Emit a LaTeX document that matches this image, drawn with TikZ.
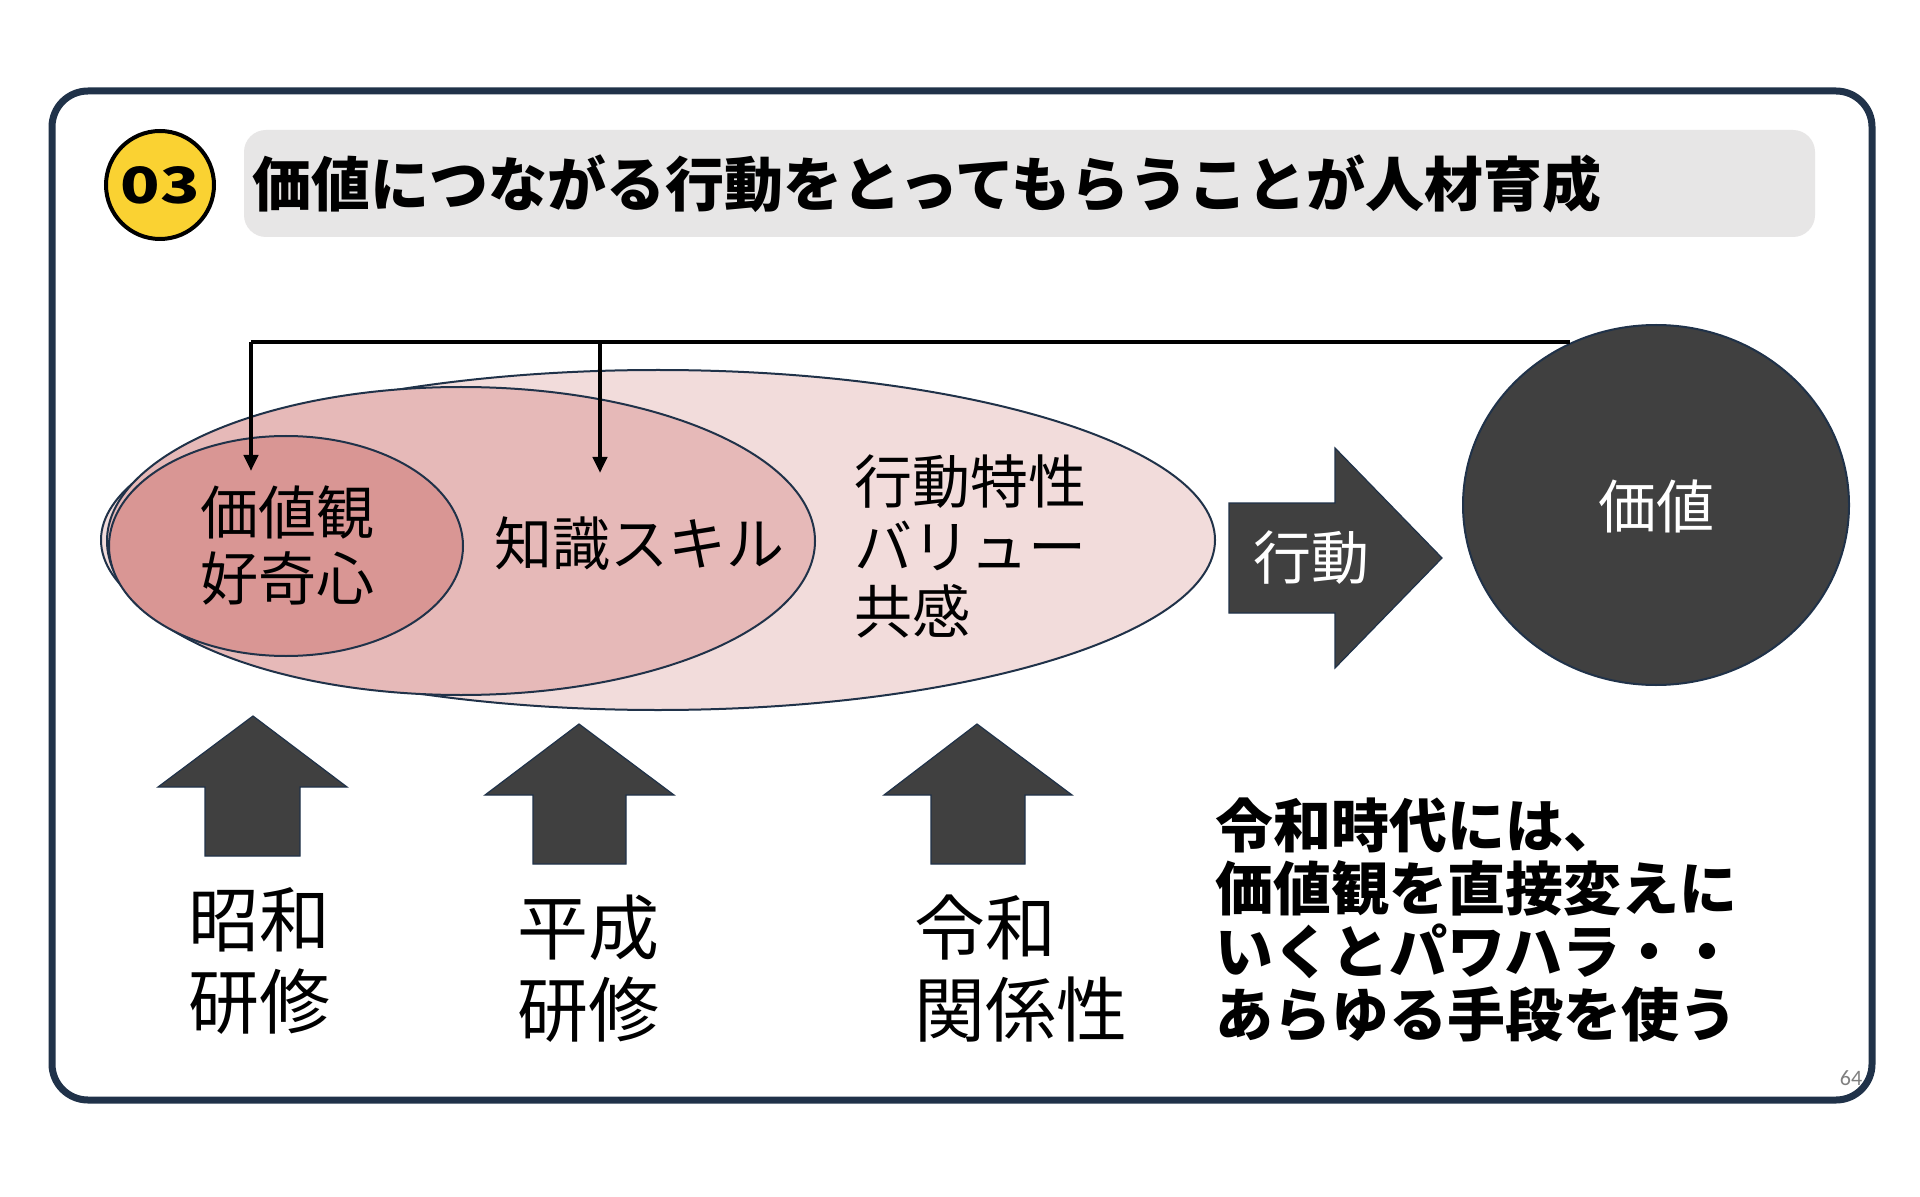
\documentclass[tikz,border=0pt]{standalone}
\usepackage{fontspec}
\newfontfamily\jp{Noto Sans CJK JP}
\newfontfamily\latn{Carlito}
\usetikzlibrary{shapes.geometric,arrows.meta}
\definecolor{navy}{HTML}{203249}
\definecolor{pinkA}{HTML}{F2DCDB}
\definecolor{pinkB}{HTML}{E6B9B8}
\definecolor{pinkC}{HTML}{D99694}
\definecolor{darkfill}{HTML}{404040}
\definecolor{badge}{HTML}{FAD232}
\definecolor{band}{HTML}{E7E6E6}
\tikzset{
  ell/.style={ellipse, draw=navy, line width=1pt, inner sep=0pt},
  blockarrow/.style={fill=darkfill, draw=navy, line width=0.6pt},
  conn/.style={draw=black, line width=2pt},
  lbl/.style={font=\jp\fontsize{29pt}{33pt}\selectfont, align=left, inner sep=0pt, text=black},
  biglbl/.style={font=\jp\fontsize{35.5pt}{41pt}\selectfont, align=left, inner sep=0pt, text=black},
}
\begin{document}
\begin{tikzpicture}[x=0.5pt,y=-0.5pt]
\useasboundingbox (0,0) rectangle (1920,1197);
\fill[white] (0,0) rectangle (1920,1197);
% frame
\draw[navy, line width=3.5pt, rounded corners=18pt] (52,91) rectangle (1872,1100);
% title band
\node[fill=band, rounded corners=11pt, minimum width=785.5pt, minimum height=53.5pt, inner sep=0pt] (band) at (1029.5,183.5) {};
\node[circle, fill=badge, draw=black, line width=2pt, minimum size=54pt, inner sep=0pt,
      font=\jp\bfseries\fontsize{25pt}{25pt}\selectfont] (badge) at (160,185) {\scalebox{1.3}[1]{03}};
\node[anchor=west, inner sep=0pt, font=\jp\bfseries\fontsize{29.5pt}{32pt}\selectfont] (title) at (252,184)
  {価値につながる行動をとってもらうことが人材育成};
% ellipses
\node[ell, fill=pinkA, minimum width=557pt, minimum height=170pt] (outer) at (658,540) {};
\node[ell, fill=pinkB, minimum width=354pt, minimum height=154pt] (middle) at (461,541) {};
\node[ell, fill=pinkC, minimum width=177pt, minimum height=110pt] (inner) at (286,546) {};
\node[lbl, anchor=west] (t1) at (200,546) {価値観\\好奇心};
\node[lbl, anchor=west] (t2) at (494,544) {知識スキル};
\node[lbl, anchor=west, font=\jp\fontsize{29pt}{32.5pt}\selectfont] (t3) at (854,546) {行動特性\\バリュー\\共感};
% right arrow
\draw[blockarrow] (1229,503) -- (1335,503) -- (1335,448) -- (1442,558) -- (1335,668) -- (1335,613) -- (1229,613) -- cycle;
\node[lbl, text=white] (act) at (1311,558) {行動};
% value circle
\node[ellipse, fill=darkfill, draw=navy, line width=1pt, minimum width=193pt, minimum height=180pt, inner sep=0pt] (value) at (1656,505) {};
\node[lbl, text=white] (vt) at (1656,506) {価値};
% connector
\coordinate (j) at (1570,342);
\coordinate (jl) at (251,342);
\coordinate (jm) at (600,342);
\coordinate (tl) at (251,471);
\coordinate (tm) at (600,473);
\draw[conn] (j) -- (jl);
\draw[conn, -{Triangle[length=8pt,width=7pt]}] (jl) -- (tl);
\draw[conn, -{Triangle[length=8pt,width=7pt]}] (jm) -- (tm);
% up arrows
\draw[blockarrow] (253,716) -- (347,787) -- (300,787) -- (300,856) -- (205,856) -- (205,787) -- (158,787) -- cycle;
\draw[blockarrow] (579,724) -- (674,795) -- (626,795) -- (626,864) -- (533,864) -- (533,795) -- (485,795) -- cycle;
\draw[blockarrow] (977,724) -- (1072,795) -- (1025,795) -- (1025,864) -- (931,864) -- (931,795) -- (884,795) -- cycle;
% labels
\node[biglbl, anchor=west] (l1) at (188,961) {昭和\\研修};
\node[biglbl, anchor=west] (l2) at (517,969) {平成\\研修};
\node[biglbl, anchor=west] (l3) at (914,969) {令和\\関係性};
\node[anchor=west, inner sep=0pt, align=left, font=\jp\bfseries\fontsize{29pt}{31.5pt}\selectfont] (note) at (1215,920)
  {令和時代には、\\価値観を直接変えに\\いくとパワハラ・・\\あらゆる手段を使う};
\node[text=gray, font=\latn\fontsize{11pt}{11pt}\selectfont, inner sep=0pt] (page) at (1851,1078) {64};
\end{tikzpicture}
\end{document}
